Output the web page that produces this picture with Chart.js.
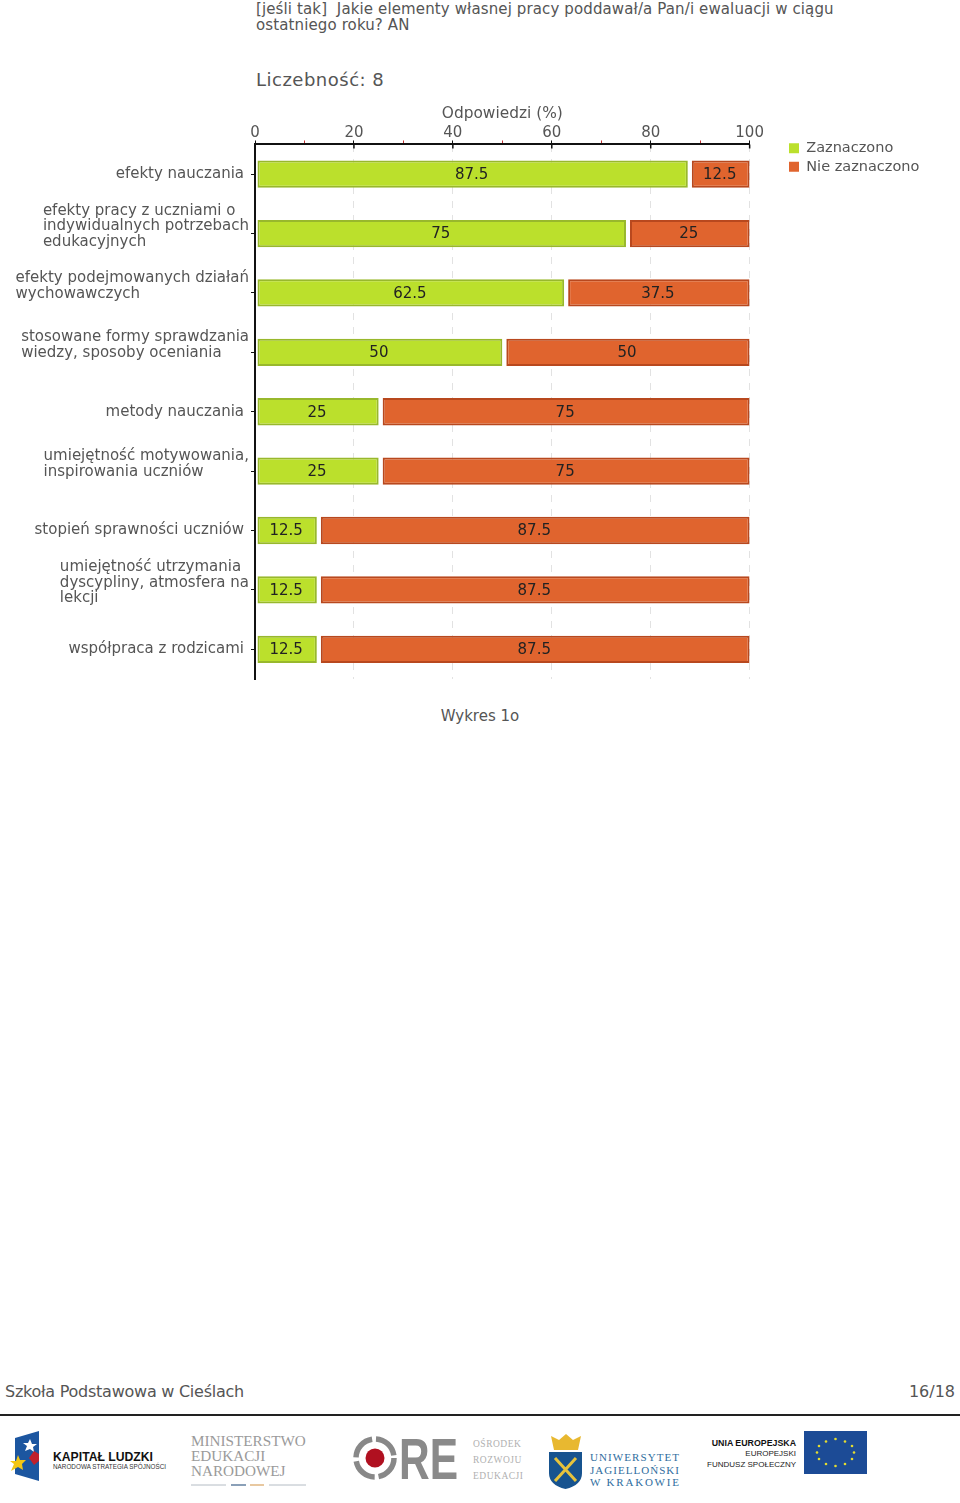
<!DOCTYPE html>
<html lang="pl">
<head>
<meta charset="utf-8">
<title>Wykres 1o</title>
<script src="https://cdn.jsdelivr.net/npm/chart.js@4/dist/chart.umd.min.js"></script>
<style>
  html, body { margin: 0; padding: 0; background: #fff; }
  body { position: relative; width: 960px; height: 1503px; overflow: hidden; font-family: "DejaVu Sans", sans-serif; color: #555; filter: blur(0.4px); }
  .txt { position: absolute; white-space: nowrap; }
  #chartBox { position: absolute; left: 0; top: 90px; width: 960px; height: 600px; }
  #rule { position: absolute; left: 0; top: 1414px; width: 960px; height: 2px; background: #222; }
  #logos { position: absolute; left: 0; top: 1420px; }
</style>
</head>
<body>
<div class="txt" style="left:256px;top:1px;font-size:15px;line-height:16px;letter-spacing:0.12px;">[jeśli tak]&nbsp; Jakie elementy własnej pracy poddawał/a Pan/i ewaluacji w ciągu<br>ostatniego roku? AN</div>
<div class="txt" style="left:256px;top:69px;font-size:18px;line-height:22px;letter-spacing:0.5px;">Liczebność: 8</div>
<div id="chartBox"><canvas id="chart" width="960" height="600"></canvas></div>
<div class="txt" style="left:0;width:960px;top:707px;text-align:center;font-size:15px;line-height:18px;">Wykres 1o</div>
<div class="txt" style="left:5px;top:1383px;font-size:16px;line-height:18px;letter-spacing:-0.25px;">Szkoła Podstawowa w Cieślach</div>
<div class="txt" style="right:5px;top:1383px;font-size:16px;line-height:18px;">16/18</div>
<div id="rule"></div>
<svg id="logos" width="960" height="83" viewBox="0 1420 960 83" xmlns="http://www.w3.org/2000/svg">
  <path d="M15 1438 L39 1431 L39 1481 L15 1474 Z" fill="#1c56a0"/>
  <path d="M30 1439 l2 5 5 0 -4 3 1 5 -4 -3 -5 2 2 -5 -4 -3 5 0 Z" fill="#fff"/>
  <path d="M18 1455 l2 5 6 0 -4 4 1 6 -5 -3 -7 4 3 -7 -4 -3 6 0 Z" fill="#f3c614"/>
  <path d="M34 1451 l5 3 0 7 -5 4 -5 -7 Z" fill="#c0202c"/>
  <text x="53" y="1461" font-family="Liberation Sans" font-weight="700" font-size="13" textLength="100" lengthAdjust="spacingAndGlyphs" fill="#111">KAPITAŁ LUDZKI</text>
  <text x="53" y="1469" font-family="Liberation Sans" font-size="6.3" textLength="113" fill="#333">NARODOWA STRATEGIA SPÓJNOŚCI</text>
  <g font-family="Liberation Serif" font-size="15.2" fill="#9a9a9a">
    <text x="191" y="1446">MINISTERSTWO</text>
    <text x="191" y="1461">EDUKACJI</text>
    <text x="191" y="1476">NARODOWEJ</text>
  </g>
  <path d="M191 1485 H226 M269 1485 H306" stroke="#b4bcc4" stroke-width="1"/>
  <path d="M231 1485 H246" stroke="#8aa0b8" stroke-width="2"/>
  <path d="M250 1485 H264" stroke="#e8c8a0" stroke-width="2"/>
  <circle cx="375" cy="1458" r="19" fill="none" stroke="#888" stroke-width="5.5" stroke-dasharray="26 4"/>
  <circle cx="375" cy="1458" r="9.5" fill="#b01020"/>
  <text x="399" y="1479" font-family="Liberation Sans" font-weight="700" font-size="57" textLength="59" lengthAdjust="spacingAndGlyphs" fill="#8a8a8a">RE</text>
  <g font-family="Liberation Serif" font-size="9.5" fill="#b0b0b0" letter-spacing="0.5">
    <text x="473" y="1447">OŚRODEK</text>
    <text x="473" y="1463">ROZWOJU</text>
    <text x="473" y="1479">EDUKACJI</text>
  </g>
  <path d="M551 1436 l8 4 7 -6 7 6 8 -4 -3 14 h-24 Z" fill="#e8b830"/>
  <path d="M549 1452 H582 V1473 Q582 1485 565.500 1489 Q549 1485 549 1473 Z" fill="#17538f"/>
  <path d="M555 1458 L576 1481 M576 1458 L555 1481" stroke="#e6c23c" stroke-width="3"/>
  <g font-family="Liberation Serif" font-size="11" fill="#2f6d9e">
    <text x="590" y="1461" textLength="89">UNIWERSYTET</text>
    <text x="590" y="1474" textLength="89">JAGIELLOŃSKI</text>
    <text x="590" y="1486" textLength="89">W KRAKOWIE</text>
  </g>
  <g font-family="Liberation Sans" fill="#222" text-anchor="end">
    <text x="796" y="1446" font-size="8.8" font-weight="700" fill="#111">UNIA EUROPEJSKA</text>
    <text x="796" y="1456" font-size="8">EUROPEJSKI</text>
    <text x="796" y="1467" font-size="8">FUNDUSZ SPOŁECZNY</text>
  </g>
  <rect x="804" y="1431" width="63" height="43" fill="#1c4b96"/>
  <g fill="#e4dc30">
    <circle cx="835.500" cy="1439" r="1.300"/><circle cx="845" cy="1441.500" r="1.300"/><circle cx="852" cy="1446" r="1.300"/>
    <circle cx="854" cy="1452.500" r="1.300"/><circle cx="852" cy="1459" r="1.300"/><circle cx="845" cy="1464" r="1.300"/>
    <circle cx="835.500" cy="1466" r="1.300"/><circle cx="826" cy="1464" r="1.300"/><circle cx="819" cy="1459" r="1.300"/>
    <circle cx="817" cy="1452.500" r="1.300"/><circle cx="819" cy="1446" r="1.300"/><circle cx="826" cy="1441.500" r="1.300"/>
  </g>
</svg>

<script>
const categories = [
  ["efekty nauczania"],
  ["efekty pracy z uczniami o", "indywidualnych potrzebach", "edukacyjnych"],
  ["efekty podejmowanych działań", "wychowawczych"],
  ["stosowane formy sprawdzania", "wiedzy, sposoby oceniania"],
  ["metody nauczania"],
  ["umiejętność motywowania,", "inspirowania uczniów"],
  ["stopień sprawności uczniów"],
  ["umiejętność utrzymania", "dyscypliny, atmosfera na", "lekcji"],
  ["współpraca z rodzicami"]
];
const zaznaczono = [87.5, 75, 62.5, 50, 25, 25, 12.5, 12.5, 12.5];
const nieZaznaczono = [12.5, 25, 37.5, 50, 75, 75, 87.5, 87.5, 87.5];

const fontName = '"DejaVu Sans", sans-serif';
const textColor = "#555";

// bars start a little right of their base in the original, which leaves the white gaps
const barGaps = {
  id: "barGaps",
  afterDatasetsUpdate(chart) {
    const insets = [2, 4];
    chart.data.datasets.forEach((ds, i) => {
      chart.getDatasetMeta(i).data.forEach(bar => {
        bar.base += insets[i];
      });
    });
  }
};

// legend sits beside the plot top, not at the top of the canvas
const legendPlace = {
  id: "legendPlace",
  afterLayout(chart) {
    chart.legend.left = 785;
    chart.legend.right = 930;
    chart.legend.top = 47;
  }
};

const barValues = {
  id: "barValues",
  afterDatasetsDraw(chart) {
    const ctx = chart.ctx;
    ctx.save();
    ctx.font = `15px ${fontName}`;
    ctx.fillStyle = "#222";
    ctx.textAlign = "center";
    ctx.textBaseline = "middle";
    chart.data.datasets.forEach((ds, i) => {
      chart.getDatasetMeta(i).data.forEach((bar, j) => {
        ctx.fillText(String(ds.data[j]), (bar.x + bar.base) / 2 - 1, bar.y + 1);
      });
    });
    ctx.restore();
  }
};

// category labels are left aligned inside their block, chart.js can only right align them
const categoryLabels = {
  id: "categoryLabels",
  afterDraw(chart) {
    const ctx = chart.ctx;
    const y = chart.scales.y;
    ctx.save();
    ctx.font = `15px ${fontName}`;
    ctx.fillStyle = textColor;
    ctx.textBaseline = "middle";
    categories.forEach((lines, i) => {
      const center = y.getPixelForValue(i);
      if (lines.length === 1) {
        ctx.textAlign = "right";
        ctx.fillText(lines[0], 244, center);
        return;
      }
      const widest = Math.max(...lines.map(l => ctx.measureText(l).width));
      const top = center - 7 - (lines.length - 1) * 15.5 / 2;
      ctx.textAlign = "left";
      lines.forEach((line, k) => ctx.fillText(line, 249 - widest, top + k * 15.5));
    });
    ctx.restore();
  }
};

// the black major ticks cross the axis line
const majorTicks = {
  id: "majorTicks",
  afterDatasetsDraw(chart) {
    const x = chart.scales.x;
    const ctx = chart.ctx;
    ctx.save();
    ctx.strokeStyle = "#111";
    ctx.lineWidth = 1.5;
    [20, 40, 60, 80, 100].forEach(v => {
      const px = x.getPixelForValue(v);
      ctx.beginPath();
      ctx.moveTo(px, x.bottom);
      ctx.lineTo(px, x.bottom + 4);
      ctx.stroke();
    });
    ctx.restore();
  }
};

new Chart(document.getElementById("chart"), {
  type: "bar",
  data: {
    labels: categories.map(c => c.join(" ")),
    datasets: [
      {
        label: "Zaznaczono",
        data: zaznaczono,
        backgroundColor: "#bbe02c",
        borderColor: "#98b82c",
        borderWidth: 2,
        borderSkipped: false
      },
      {
        label: "Nie zaznaczono",
        data: nieZaznaczono,
        backgroundColor: "#e0642e",
        borderColor: "#b8481e",
        borderWidth: 2,
        borderSkipped: false
      }
    ]
  },
  plugins: [barGaps, legendPlace, barValues, categoryLabels, majorTicks],
  options: {
    indexAxis: "y",
    responsive: false,
    animation: false,
    barPercentage: 0.46,
    categoryPercentage: 1,
    layout: { padding: { left: 251, right: 66, top: 15, bottom: 11 } },
    plugins: {
      title: { display: false },
      tooltip: { enabled: false },
      legend: {
        display: true,
        position: "right",
        align: "start",
        labels: {
          font: { family: fontName, size: 14.5 },
          color: textColor,
          boxWidth: 10,
          boxHeight: 10,
          padding: 4,
          generateLabels: chart => Chart.defaults.plugins.legend.labels.generateLabels(chart).map(item => ({ ...item, lineWidth: 0 }))
        }
      }
    },
    scales: {
      x: {
        position: "top",
        stacked: true,
        min: 0,
        max: 100,
        title: {
          display: true,
          text: "Odpowiedzi (%)",
          color: textColor,
          font: { family: fontName, size: 15.4 },
          padding: { top: 0, bottom: 2 }
        },
        border: { display: true, color: "#111", width: 2, dash: [7, 7] },
        grid: {
          drawTicks: true,
          tickLength: 4,
          tickBorderDash: [],
          lineWidth: 1,
          color: ctx => (ctx.tick && ctx.tick.value % 20 === 0 && ctx.tick.value > 0 ? "#e2e2e2" : "transparent"),
          tickColor: ctx => (ctx.tick && ctx.tick.value % 20 === 0 ? "#111" : "#c03030")
        },
        ticks: {
          stepSize: 10,
          autoSkip: false,
          maxRotation: 0,
          padding: 0,
          color: textColor,
          font: { family: fontName, size: 15, lineHeight: 1 },
          callback: v => (v % 20 === 0 ? String(v) : "")
        }
      },
      y: {
        stacked: true,
        border: { display: true, color: "#111", width: 2 },
        grid: { offset: false, drawOnChartArea: false, drawTicks: true, tickLength: 4, tickColor: "#111" },
        ticks: { display: false }
      }
    }
  }
});
</script>
</body>
</html>
